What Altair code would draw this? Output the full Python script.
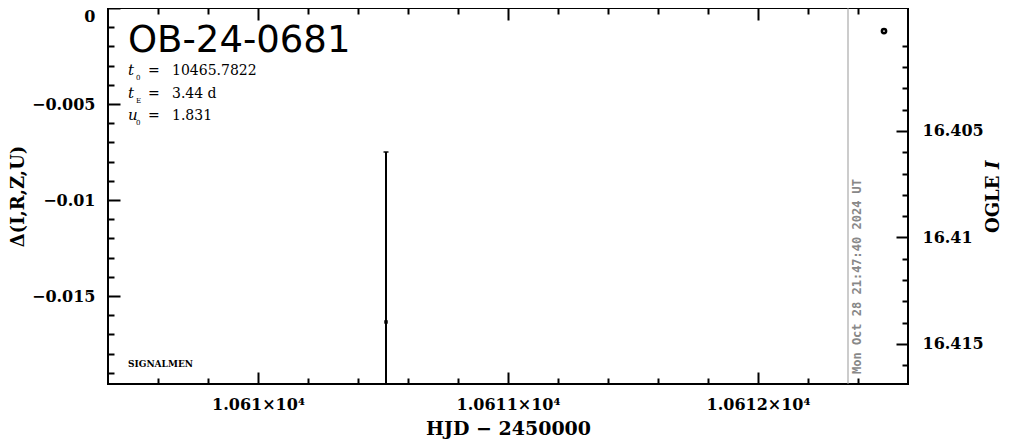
import altair as alt
import pandas as pd

# ---------------- data ----------------
x_domain = [10609.4, 10612.6]
y_left_domain = [-0.01958, 0.0]
y_right_domain = [16.39923, 16.41688]

x_major_ticks = [10610, 10611, 10612]
x_major_labels = ["1.061×10⁴", "1.0611×10⁴", "1.0612×10⁴"]
x_minor_ticks = [10609.6, 10609.8, 10610.2, 10610.4, 10610.6, 10610.8,
                 10611.2, 10611.4, 10611.6, 10611.8, 10612.2, 10612.4]

y_left_major_ticks = [0.0, -0.005, -0.01, -0.015]
y_left_major_labels = ["0", "−0.005", "−0.01", "−0.015"]
y_left_minor_ticks = [-0.001, -0.002, -0.003, -0.004, -0.006, -0.007, -0.008,
                      -0.009, -0.011, -0.012, -0.013, -0.014, -0.016, -0.017,
                      -0.018, -0.019]

y_right_major_ticks = [16.405, 16.41, 16.415]
y_right_major_labels = ["16.405", "16.41", "16.415"]
y_right_minor_ticks = [16.401, 16.402, 16.403, 16.404, 16.406, 16.407, 16.408,
                       16.409, 16.411, 16.412, 16.413, 16.414, 16.416]

obs_hjd = [10610.512]
obs_delta = [-0.01635]
obs_err = [0.00885]
obs_mag = [16.41397]

marker_hjd = [10612.504]
marker_delta = [-0.0012]

now_hjd = [10612.36]
now_label = ["Mon Oct 28 21:47:40 2024 UT"]

event_name = ["OB-24-0681"]
param_symbols = ["t", "t", "u"]
param_subs = ["0", "E", "0"]
param_values = ["10465.7822", "3.44 d", "1.831"]
param_rows = [67, 90, 112]
credit = ["SIGNALMEN"]
right_title = ["OGLE"]
right_title_band = ["I"]

# ---------------- helpers ----------------
def label_expr(vals, labels):
    expr = "''"
    for v, l in reversed(list(zip(vals, labels))):
        expr = f"abs(datum.value - ({v})) < 1e-9 ? '{l}' : {expr}"
    return expr


def xs():
    return alt.Scale(domain=x_domain, nice=False, zero=False)


def yls():
    return alt.Scale(domain=y_left_domain, nice=False, zero=False)


def yrs():
    return alt.Scale(domain=y_right_domain, nice=False, zero=False, reverse=True)


def tick_axis(orient, values, size, **kw):
    base = dict(orient=orient, values=values, tickSize=size, offset=-size,
                domain=False, grid=False, ticks=True, tickColor="black",
                tickWidth=2, labels=False, title=None)
    base.update(kw)
    return alt.Axis(**base)


axes_df = pd.DataFrame({"hjd": obs_hjd, "delta": obs_delta, "mag": obs_mag})

# bottom major + left major (labelled)
ax1 = alt.Chart(axes_df).mark_point(opacity=0).encode(
    x=alt.X("hjd:Q", scale=xs(), axis=tick_axis(
        "bottom", x_major_ticks, 12, labels=True,
        labelExpr=label_expr(x_major_ticks, x_major_labels),
        labelPadding=12, title="HJD − 2450000", titlePadding=7,
        titleFontSize=19)),
    y=alt.Y("delta:Q", scale=yls(), axis=tick_axis(
        "left", y_left_major_ticks, 12, labels=True,
        labelExpr=label_expr(y_left_major_ticks, y_left_major_labels),
        labelPadding=13,
        labelBaseline={"condition": {"test": "datum.value == 0", "value": "top"},
                       "value": "middle"},
        title="Δ(I,R,Z,U)", titlePadding=4)),
)

ax2 = alt.Chart(axes_df).mark_point(opacity=0).encode(
    x=alt.X("hjd:Q", scale=xs(), axis=tick_axis("bottom", x_minor_ticks, 6)),
    y=alt.Y("delta:Q", scale=yls(), axis=tick_axis("left", y_left_minor_ticks, 6)),
)

ax3 = alt.Chart(axes_df).mark_point(opacity=0).encode(
    x=alt.X("hjd:Q", scale=xs(), axis=tick_axis("top", x_major_ticks, 12)),
    y=alt.Y("mag:Q", scale=yrs(), axis=tick_axis(
        "right", y_right_major_ticks, 12, labels=True,
        labelExpr=label_expr(y_right_major_ticks, y_right_major_labels),
        labelPadding=14)),
)

ax4 = alt.Chart(axes_df).mark_point(opacity=0).encode(
    x=alt.X("hjd:Q", scale=xs(), axis=tick_axis("top", x_minor_ticks, 6)),
    y=alt.Y("mag:Q", scale=yrs(), axis=tick_axis("right", y_right_minor_ticks, 6)),
)

# ---------------- data marks ----------------
obs_df = pd.DataFrame({
    "hjd": obs_hjd,
    "delta": obs_delta,
    "lo": [d - e for d, e in zip(obs_delta, obs_err)],
    "hi": [d + e for d, e in zip(obs_delta, obs_err)],
})

errbar = alt.Chart(obs_df).mark_rule(color="black", strokeWidth=2, clip=True).encode(
    x=alt.X("hjd:Q", scale=xs(), axis=None),
    y=alt.Y("lo:Q", scale=yls(), axis=None),
    y2="hi:Q",
)
cap = alt.Chart(obs_df).mark_tick(color="black", orient="horizontal", size=5,
                                  thickness=2, clip=True).encode(
    x=alt.X("hjd:Q", scale=xs(), axis=None),
    y=alt.Y("hi:Q", scale=yls(), axis=None),
)
pt = alt.Chart(obs_df).mark_square(color="black", size=12, opacity=1).encode(
    x=alt.X("hjd:Q", scale=xs(), axis=None),
    y=alt.Y("delta:Q", scale=yls(), axis=None),
)

marker_df = pd.DataFrame({"hjd": marker_hjd, "delta": marker_delta})
marker = alt.Chart(marker_df).mark_point(shape="circle", size=18, color="black",
                                         strokeWidth=2.5, filled=False,
                                         opacity=1).encode(
    x=alt.X("hjd:Q", scale=xs(), axis=None),
    y=alt.Y("delta:Q", scale=yls(), axis=None),
)

now_df = pd.DataFrame({"hjd": now_hjd, "label": now_label})
now_line = alt.Chart(now_df).mark_rule(color="#999999", strokeWidth=1).encode(
    x=alt.X("hjd:Q", scale=xs(), axis=None),
)
now_text = alt.Chart(now_df).mark_text(
    angle=270, align="left", baseline="middle", dy=9,
    font="DejaVu Sans Mono", fontWeight="bold", fontSize=12, color="#888888",
).encode(
    x=alt.X("hjd:Q", scale=xs(), axis=None),
    y=alt.value(366),
    text="label:N",
)

# ---------------- text annotations ----------------
name_df = pd.DataFrame({"t": event_name})
name_text = alt.Chart(name_df).mark_text(
    align="left", baseline="alphabetic", font="DejaVu Sans", fontSize=37,
    color="black",
).encode(x=alt.value(20), y=alt.value(44), text="t:N")

par_df = pd.DataFrame({"sym": param_symbols, "sub": param_subs,
                       "val": param_values, "row": param_rows,
                       "eq": ["="] * len(param_values)})
par_sym = alt.Chart(par_df).mark_text(
    align="left", baseline="alphabetic", font="DejaVu Serif", fontStyle="italic",
    fontSize=15, color="black",
).encode(x=alt.value(20), y=alt.Y("row:Q", scale=None), text="sym:N")
par_sub = alt.Chart(par_df).mark_text(
    align="left", baseline="alphabetic", font="DejaVu Serif", fontSize=7,
    color="black", dy=5,
).encode(x=alt.value(28), y=alt.Y("row:Q", scale=None), text="sub:N")
par_eq = alt.Chart(par_df).mark_text(
    align="left", baseline="alphabetic", font="DejaVu Serif", fontSize=14,
    color="black",
).encode(x=alt.value(40), y=alt.Y("row:Q", scale=None), text="eq:N")
par_val = alt.Chart(par_df).mark_text(
    align="left", baseline="alphabetic", font="DejaVu Serif", fontSize=14,
    color="black",
).encode(x=alt.value(64), y=alt.Y("row:Q", scale=None), text="val:N")

credit_df = pd.DataFrame({"t": credit})
credit_text = alt.Chart(credit_df).mark_text(
    align="left", baseline="alphabetic", font="DejaVu Serif", fontWeight="bold",
    fontSize=9, color="black",
).encode(x=alt.value(20), y=alt.value(359), text="t:N")

rt_df = pd.DataFrame({"a": right_title, "b": right_title_band})
rt_a = alt.Chart(rt_df).mark_text(
    angle=270, align="left", baseline="middle", font="DejaVu Serif",
    fontWeight="bold", fontSize=18, color="black",
).encode(x=alt.value(886), y=alt.value(225), text="a:N")
rt_b = alt.Chart(rt_df).mark_text(
    angle=270, align="left", baseline="middle", font="DejaVu Serif",
    fontWeight="bold", fontStyle="italic", fontSize=18, color="black",
).encode(x=alt.value(886), y=alt.value(161), text="b:N")

chart = alt.layer(
    ax1, ax2, ax3, ax4,
    now_line, now_text,
    errbar, cap, pt, marker,
    name_text, par_sym, par_sub, par_eq, par_val, credit_text, rt_a, rt_b,
).resolve_scale(
    x="shared", y="independent"
).resolve_axis(
    x="independent", y="independent"
).properties(
    width=800, height=376,
    autosize=alt.AutoSizeParams(type="none"),
    padding={"left": 100, "top": 0, "right": 95, "bottom": 58},
    background="white",
).configure_view(
    stroke="black", strokeWidth=2,
).configure_axis(
    labelFont="DejaVu Serif", labelFontSize=16, labelFontWeight="bold",
    labelColor="black", titleFont="DejaVu Serif", titleFontSize=18,
    titleFontWeight="bold", titleColor="black",
)

chart.save("out.html", embed_options={"renderer": "svg", "actions": False})
